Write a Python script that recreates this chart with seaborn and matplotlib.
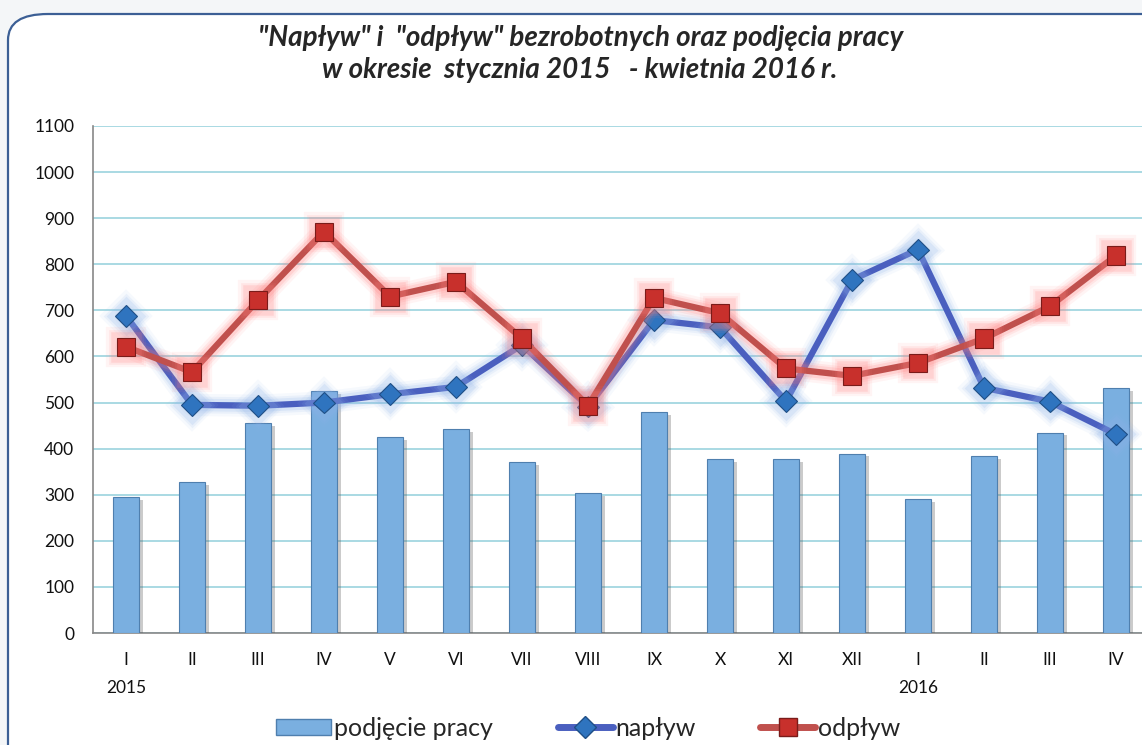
import numpy as np
import pandas as pd
import matplotlib
matplotlib.use("Agg")
import matplotlib.pyplot as plt
import matplotlib.patheffects as pe
from matplotlib.patches import FancyBboxPatch, Patch
from matplotlib.lines import Line2D
import seaborn as sns

sns.set_style("white")
plt.rcParams['font.family'] = ['Lato', 'DejaVu Sans']

# data
months = ["I", "II", "III", "IV", "V", "VI", "VII", "VIII", "IX", "X", "XI", "XII",
          "I ", "II ", "III ", "IV "]
podjecie = [294, 328, 455, 524, 425, 442, 371, 303, 480, 378, 377, 389, 291, 384, 435, 531]
naplyw = [688, 495, 493, 500, 518, 534, 625, 491, 679, 663, 503, 766, 832, 532, 502, 431]
odplyw = [621, 566, 722, 871, 730, 762, 639, 493, 727, 694, 574, 558, 586, 639, 709, 819]
year_labels = {0: "2015", 12: "2016"}

df = pd.DataFrame({"month": months, "podjecie": podjecie,
                   "naplyw": naplyw, "odplyw": odplyw})

fig = plt.figure(figsize=(11.42, 7.45), dpi=100)
fig.patch.set_facecolor("#f4f6f8")

# rounded frame
frame = FancyBboxPatch((8 / 1142, -0.05), 1.1, 1 - 14 / 745 + 0.05,
                       boxstyle="round,pad=0,rounding_size=0.035",
                       transform=fig.transFigure, facecolor="white",
                       edgecolor="#3c5f95", linewidth=1.6, zorder=-10)
fig.patches.append(frame)

ax = fig.add_axes([93 / 1142, 1 - 633 / 745, 1056 / 1142, 507 / 745])
ax.set_facecolor("none")
ax.set_zorder(2)

bar_blue = "#7aafe0"
sns.barplot(data=df, x="month", y="podjecie", color=bar_blue, width=0.38,
            saturation=1, edgecolor="#4f7fae", linewidth=0.8, ax=ax, zorder=3)
for p in ax.patches:
    p.set_path_effects([pe.SimplePatchShadow(offset=(3, -2), shadow_rgbFace="#555555", alpha=0.3),
                        pe.Normal()])


def glow(c):
    return [pe.Stroke(linewidth=16, foreground=c, alpha=0.08),
            pe.Stroke(linewidth=12, foreground=c, alpha=0.12),
            pe.Stroke(linewidth=9, foreground=c, alpha=0.18),
            pe.Normal()]


x = np.arange(len(months))
sns.lineplot(x=x, y=df["naplyw"], color="#4a5fbf", linewidth=4.5, marker="D",
             markersize=11, markerfacecolor="#2f74bf", markeredgecolor="#1f4f86",
             markeredgewidth=0.8, ax=ax, zorder=5, path_effects=glow("#8fb4ea"))
sns.lineplot(x=x, y=df["odplyw"], color="#c0504d", linewidth=4.5, marker="s",
             markersize=13, markerfacecolor="#c8302c", markeredgecolor="#7a1c1a",
             markeredgewidth=0.8, ax=ax, zorder=6, path_effects=glow("#ff7f7f"))

ax.set_xlim(-0.5, len(months) - 0.5)
ax.set_ylim(0, 1100)
ax.set_yticks(np.arange(0, 1101, 100))
ax.yaxis.grid(True, color="#a9d9e3", linewidth=1.4, zorder=0)
ax.set_axisbelow(True)
ax.set_xlabel("")
ax.set_ylabel("")

ax.set_xticks(x)
ax.set_xticklabels([m.strip() for m in months])
ax.set_xticks(np.arange(-0.5, len(months), 1), minor=True)
ax.tick_params(axis="x", which="major", length=0, pad=14, labelsize=12.5, colors="#111111")
ax.tick_params(axis="x", which="minor", length=6, width=1, color="#888888", direction="out")
ax.tick_params(axis="y", length=6, width=1, color="#888888", direction="out",
               labelsize=12.5, labelcolor="#111111", pad=7.5)

for s in ["top", "right"]:
    ax.spines[s].set_visible(False)
for s in ["left", "bottom"]:
    ax.spines[s].set_color("#888888")
    ax.spines[s].set_linewidth(1.2)

for i, yr in year_labels.items():
    ax.text(i, -0.108, yr, transform=ax.get_xaxis_transform(), ha="center",
            va="center", fontsize=12.5, color="#111111")

fig.text(0.508, 1 - 38 / 745, "\"Napływ\" i  \"odpływ\" bezrobotnych oraz podjęcia pracy",
         ha="center", va="center", fontsize=20, fontweight="bold", fontstyle="italic")
fig.text(0.508, 1 - 70 / 745, "w okresie  stycznia 2015   - kwietnia 2016 r.",
         ha="center", va="center", fontsize=20, fontweight="bold", fontstyle="italic")

handles = [Patch(facecolor=bar_blue, edgecolor="#4f7fae"),
           Line2D([], [], color="#4a5fbf", linewidth=5, marker="D", markersize=11,
                  markerfacecolor="#2f74bf", markeredgecolor="#1f4f86"),
           Line2D([], [], color="#c0504d", linewidth=5, marker="s", markersize=13,
                  markerfacecolor="#c8302c", markeredgecolor="#7a1c1a")]
fig.legend(handles, ["podjęcie pracy", "napływ", "odpływ"], loc="center",
           bbox_to_anchor=(0.515, 1 - 728 / 745), ncol=3, frameon=False,
           fontsize=18, handlelength=2.2, handleheight=0.6, handletextpad=0.1,
           columnspacing=2.6)

fig.savefig("out.png", dpi=100, facecolor=fig.get_facecolor())
